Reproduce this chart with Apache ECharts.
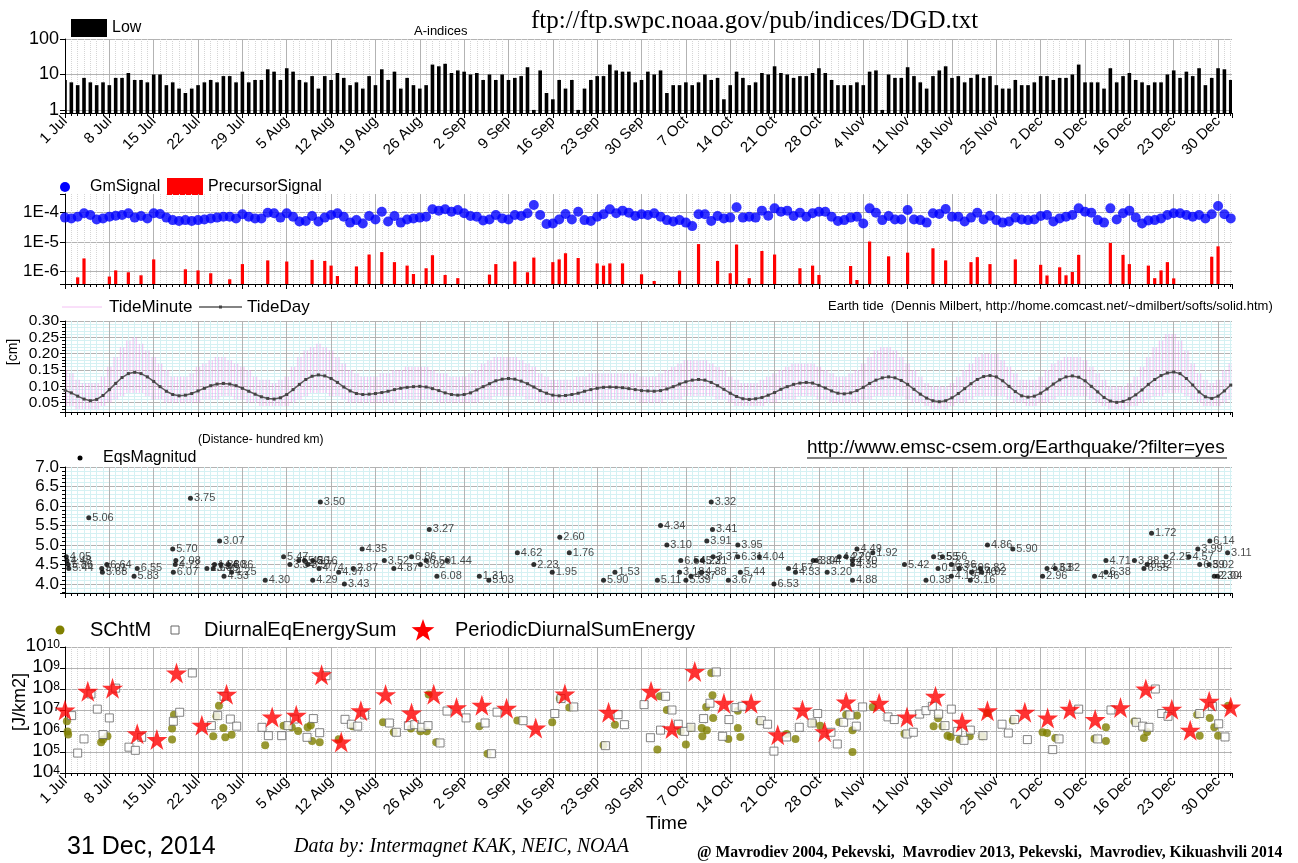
<!DOCTYPE html>
<html>
<head>
<meta charset="utf-8">
<script src="https://cdn.jsdelivr.net/npm/echarts@6/dist/echarts.min.js"></script>
<style>
  html, body { margin: 0; padding: 0; background: #fff; }
  #chart { width: 1298px; height: 863px; }
</style>
</head>
<body>
<div id="chart"></div>
<script>
// ---------------------------------------------------------------
// Daily series, 1 Jul 2014 .. 1 Jan 2015 (index 0 = 1 Jul)
// ---------------------------------------------------------------
const MONTHS = ['Jan', 'Feb', 'Mar', 'Apr', 'May', 'Jun', 'Jul', 'Aug', 'Sep', 'Oct', 'Nov', 'Dec'];
const START_UTC = Date.UTC(2014, 6, 1);

// A-index, "Low" (NOAA DGD)
const aIndexLow = [
  7,6,5,8,6,5,6,5,8,8, 11,7,7,6,10,10,5,6,4,3, 4,5,6,7,6,9,9,6,12,6,
  7,7,14,12,7,15,12,7,6,9, 4,9,7,11,8,5,6,4,9,5, 14,7,12,4,8,5,4,5,19,17,
  20,11,13,12,10,11,7,10,7,10, 7,8,9,16,1,13,3,2,7,4, 7,1,4,7,9,9,19,13,12,12,
  6,
  7,12,10,13,3,5,5,6,5,6, 10,7,8,2,5,12,8,5,6,11, 10,17,11,10,8,9,9,11,15,11,
  7,5,5,5,6,5,12,13,1,10, 8,8,16,9,6,4,9,13,17,8, 9,6,8,10,8,9,5,4,4,7,
  5,5,6,9,9,7,8,8,10,19, 6,6,6,4,15,6,9,11,7,6, 5,6,6,10,13,8,12,9,15,5,
  8,15,14,7
];

// Geomagnetic signal (daily)
const gmSignal = [
  6.8e-5,6.4e-5,7.3e-5,9.5e-5,8.3e-5,5.9e-5,6.4e-5,7.3e-5,7.9e-5,8.3e-5,
  9.5e-5,6.8e-5,7.7e-5,6.4e-5,9.5e-5,9.0e-5,6.8e-5,5.6e-5,5.2e-5,5.6e-5,
  5.2e-5,5.6e-5,5.9e-5,6.4e-5,6.8e-5,7.3e-5,7.3e-5,6.4e-5,8.8e-5,7.3e-5,
  6.4e-5,6.4e-5,1.0e-4,9.5e-5,6.8e-5,9.5e-5,7.3e-5,5.0e-5,5.2e-5,7.7e-5,
  5.0e-5,6.8e-5,8.3e-5,9.5e-5,7.3e-5,4.6e-5,5.6e-5,4.3e-5,7.7e-5,5.9e-5,
  1.08e-4,5.0e-5,7.7e-5,4.6e-5,5.9e-5,6.4e-5,6.8e-5,7.3e-5,1.3e-4,1.17e-4,
  1.3e-4,1.08e-4,1.23e-4,9.5e-5,7.7e-5,7.3e-5,5.4e-5,5.9e-5,8.3e-5,6.4e-5,
  5.9e-5,8.3e-5,7.7e-5,9.5e-5,1.82e-4,8.3e-5,4.1e-5,4.3e-5,5.9e-5,9.0e-5,
  5.9e-5,1.08e-4,5.6e-5,5.2e-5,7.3e-5,8.8e-5,1.3e-4,9.5e-5,1.17e-4,1.0e-4,
  7.7e-5,8.8e-5,8.3e-5,
  9.5e-5,7.3e-5,5.6e-5,5.0e-5,5.6e-5,4.6e-5,3.5e-5,8.8e-5,
  8.8e-5,5.2e-5,7.7e-5,6.4e-5,6.8e-5,1.52e-4,6.8e-5,7.3e-5,6.8e-5,1.17e-4,
  7.9e-5,1.4e-4,1.08e-4,1.17e-4,7.7e-5,1.0e-4,7.3e-5,9.5e-5,1.08e-4,1.08e-4,
  7.3e-5,5.2e-5,5.6e-5,6.8e-5,7.3e-5,4.3e-5,1.4e-4,1.0e-4,5.6e-5,7.7e-5,
  5.9e-5,5.9e-5,1.23e-4,5.9e-5,5.6e-5,4.6e-5,9.5e-5,9.0e-5,1.33e-4,7.3e-5,
  7.3e-5,5.0e-5,6.8e-5,1.0e-4,5.9e-5,7.9e-5,5.6e-5,4.6e-5,5.0e-5,6.8e-5,
  5.9e-5,5.6e-5,5.9e-5,7.7e-5,8.3e-5,5.0e-5,6.4e-5,7.3e-5,8.3e-5,1.4e-4,
  1.08e-4,1.0e-4,5.6e-5,4.6e-5,1.4e-4,5.9e-5,9.5e-5,1.17e-4,6.9e-5,4.3e-5,
  5.4e-5,5.6e-5,6.4e-5,8.3e-5,9.5e-5,9.5e-5,8.3e-5,7.3e-5,8.3e-5,6.4e-5,
  8.8e-5,1.68e-4,8.8e-5,6.4e-5
];

// Precursor signal (days with a signal)
const precursorDay = [
  2,3,7,8,10,12,14,19,21,23,26,28,32,35,39,41,42,43,46,48,50,52,54,55,57,58,60,62,67,68,
  71,73,74,77,78,79,81,84,85,86,88,91,
  93,97,100,103,105,106,108,110,112,116,118,119,124,125,127,130,133,137,139,143,
  144,146,150,154,155,157,158,159,160,165,167,168,171,172,173,174,175,181,182
];
const precursorValue = [
  6.4e-7,2.8e-6,6.8e-7,1.1e-6,9.5e-7,7.5e-7,2.6e-6,1.2e-6,1.1e-6,8.8e-7,
  5.5e-7,1.8e-6,2.4e-6,2.2e-6,2.5e-6,2.3e-6,1.6e-6,7.1e-7,1.5e-6,3.8e-6,
  4.6e-6,2.1e-6,1.6e-6,8.3e-7,1.3e-6,3.6e-6,7.7e-7,6.0e-7,7.9e-7,1.8e-6,
  2.2e-6,9.5e-7,3.0e-6,2.1e-6,2.6e-6,4.2e-6,2.9e-6,1.9e-6,1.6e-6,1.9e-6,
  1.9e-6,8.1e-7,
  4.8e-7,1.08e-6,8.6e-6,2.3e-6,8.8e-7,8.3e-6,6.0e-7,5.0e-6,3.8e-6,1.3e-6,
  1.6e-6,7.7e-7,1.55e-6,5.2e-7,1.05e-5,3.3e-6,4.4e-6,6.2e-6,2.4e-6,2.1e-6,
  3.1e-6,1.8e-6,2.6e-6,1.7e-6,7.4e-7,1.4e-6,7.5e-7,9.7e-7,3.7e-6,9.4e-6,
  3.7e-6,1.8e-6,1.6e-6,6.0e-7,1.1e-6,2.1e-6,5.9e-7,3.2e-6,7.2e-6
];

// Earth tide [cm]: daily mean and the daily range of the minute values
const tideDay = [
  .088,.080,.070,.061,.056,.060,.072,.090,.109,.127, .139,.143,.139,.129,.115,.099,.085,.075,.071,.073,
  .078,.086,.094,.102,.107,.109,.107,.102,.094,.085, .076,.068,.063,.061,.065,.075,.090,.106,.121,.131,
  .135,.132,.124,.112,.098,.086,.078,.075,.076,.078, .081,.085,.090,.094,.097,.099,.100,.098,.093,.087,
  .080,.075,.073,.075,.080,.089,.099,.108,.117,.122, .124,.122,.116,.108,.098,.087,.079,.073,.071,.072,
  .075,.079,.085,.090,.094,.097,.098,.097,.096,.093, .090,.087,.086,.085,.087,.092,.099,.107,.114,.119,
  .121,.119,.112,.102,.091,.079,.069,.062,.060,.062, .066,.073,.081,.091,.099,.106,.110,.112,.110,.103,
  .095,.086,.079,.077,.080,.087,.097,.109,.119,.126, .129,.126,.118,.106,.091,.076,.064,.056,.053,.056,
  .065,.078,.093,.108,.121,.130,.133,.129,.117,.100, .084,.071,.067,.070,.079,.092,.107,.120,.129,.132,
  .128,.117,.100,.083,.066,.055,.051,.054,.062,.074, .089,.106,.121,.133,.141,.144,.139,.124,.104,.083,
  .068,.063,.070,.086,.104
];
const tideMinuteHigh = [
  .15,.14,.12,.11,.11,.11,.13,.16,.19,.22, .24,.25,.23,.21,.19,.17,.15,.13,.13,.13,
  .14,.16,.17,.18,.19,.19,.18,.17,.16,.15, .13,.12,.12,.11,.12,.13,.16,.19,.21,.22,
  .23,.22,.21,.19,.17,.15,.14,.13,.13,.13, .14,.14,.15,.15,.16,.16,.16,.16,.15,.14,
  .14,.13,.13,.13,.14,.15,.17,.18,.19,.19, .19,.19,.18,.17,.16,.14,.13,.12,.12,.12,
  .12,.13,.13,.14,.14,.14,.14,.14,.14,.14, .14,.13,.13,.13,.14,.15,.16,.17,.18,.18,
  .18,.18,.17,.16,.15,.13,.12,.11,.11,.11, .12,.13,.14,.15,.16,.17,.17,.17,.17,.16,
  .15,.14,.13,.13,.14,.15,.17,.19,.21,.22, .22,.21,.19,.17,.15,.13,.11,.10,.10,.10,
  .11,.13,.15,.17,.19,.20,.20,.20,.18,.16, .14,.12,.12,.12,.13,.15,.17,.18,.19,.19,
  .19,.18,.16,.14,.12,.10,.10,.10,.11,.13, .16,.19,.22,.24,.26,.26,.24,.21,.17,.14,
  .12,.11,.12,.15,.17
];
const tideMinuteLow = [
  .04,.04,.03,.03,.03,.03,.04,.05,.06,.07, .08,.08,.08,.07,.06,.06,.05,.05,.05,.05,
  .05,.05,.06,.06,.06,.07,.07,.06,.06,.05, .05,.04,.04,.04,.04,.04,.05,.06,.07,.08,
  .08,.08,.07,.07,.06,.05,.05,.05,.05,.05, .05,.05,.05,.06,.06,.06,.06,.06,.06,.05,
  .05,.05,.05,.05,.05,.05,.06,.06,.07,.07, .07,.07,.07,.06,.06,.05,.05,.05,.05,.05,
  .05,.05,.05,.05,.06,.06,.06,.06,.06,.06, .06,.05,.05,.05,.05,.06,.06,.06,.07,.07,
  .07,.07,.07,.06,.06,.05,.04,.04,.04,.04, .04,.05,.05,.06,.06,.06,.07,.07,.07,.06,
  .06,.05,.05,.05,.05,.05,.06,.06,.07,.07, .07,.07,.07,.06,.05,.05,.04,.03,.03,.03,
  .04,.05,.05,.06,.07,.07,.07,.07,.07,.06, .05,.05,.04,.04,.05,.05,.06,.07,.07,.07,
  .07,.07,.06,.05,.04,.03,.03,.03,.04,.04, .05,.06,.07,.07,.08,.08,.08,.07,.06,.05,
  .04,.04,.04,.05,.06
];

// Earthquakes: time (days from 1 Jul), magnitude, distance label (hundred km)
const eqDay = [
  0.2,0.3,0.5,0.6,3.75,5.8,5.9,6.6,10.9,11.4, 17.0,17.5,17.4,17.1,19.8,22.4,23.4,23.6,24.4,24.6,
  25.1,25.8,26.3,31.6,34.5,35.5,36.9,37.8,38.3,39.1, 40.1,39.1,40.3,43.2,44.1,45.5,46.9,50.4,51.9,54.7,
  56.1,57.0,57.5,58.7,60.3,65.4,66.9,71.4,74.0,76.9, 78.1,79.6,85.0,86.8,93.5,94.0,95.0,97.0,97.2,98.0,
  98.8,99.6,100.5,100.6,101.3,102.0,102.2,102.3,104.7,106.2, 106.2,106.6,109.6,111.9,114.2,115.3,118.1,118.6,120.3,122.2,
  123.3,124.3,124.3,125.0,124.3,127.5,132.5,135.9,137.1,137.8, 138.5,139.9,139.9,141.1,142.9,143.1,144.5,144.7,145.6,149.6,
  154.3,155.0,156.3,162.5,164.3,164.3,168.8,170.3,170.8,171.5, 173.8,177.4,178.8,179.1,180.6,180.7,181.4,181.9,183.5
];
const eqMagnitude = [
  4.7,4.6,4.5,4.4,5.7,4.4,4.3,4.5,4.2,4.4, 4.9,4.6,4.5,4.3,6.2,4.4,4.4,4.5,5.1,4.5,
  4.2,4.5,4.3,4.1,4.7,4.5,4.6,4.6,4.5,4.6, 4.4,4.1,6.1,4.3,4.0,4.4,4.9,4.6,4.4,4.7,
  4.5,4.6,5.4,4.2,4.6,4.2,4.1,4.8,4.5,4.3, 5.2,4.8,4.1,4.3,4.1,5.5,5.0,4.3,4.6,4.1,
  4.2,4.6,4.3,4.6,5.1,6.1,5.4,4.7,4.1,5.0, 4.7,4.3,4.7,4.0,4.4,4.3,4.6,4.6,4.3,4.7,
  4.7,4.6,4.5,4.9,4.1,4.8,4.5,4.1,4.7,4.4, 4.7,4.5,4.2,4.4,4.1,4.3,4.4,4.3,5.0,4.9,
  4.2,4.4,4.4,4.2,4.6,4.3,4.6,4.4,4.5,5.3, 4.7,4.7,4.9,4.5,4.5,5.1,4.2,4.2,4.8
];
const eqDistance = [
  '4.05','4.48','5.86','5.44','5.06','5.01','5.68','6.64','5.83','6.55',
  '5.70','2.08','4.72','6.07','3.75','2.64','3.06','1.86','3.07','4.80',
  '4.53','4.86','4.25','4.30','5.47','3.34','5.45','5.26','3.57','6.16',
  '4.74','4.29','3.50','4.97','3.43','2.87','4.35','3.52','4.87','6.86',
  '3.02','6.59','3.27','6.08','1.44','1.31','5.03','4.62','2.23','1.95',
  '2.60','1.76','5.90','1.53','5.11','4.34','3.10','3.18','6.54','5.39',
  '4.37','4.23','4.88','5.21','3.91','3.32','3.41','3.37','3.67','3.95',
  '6.31','5.44','4.04','6.53','4.57','4.33','3.84','3.04','3.20','4.27',
  '4.20','4.70','4.35','4.49','4.88','1.92','5.42','0.38','5.55','0.13',
  '5.56','6.36','4.19','3.59','3.16','4.76','6.82','4.92','4.86','5.90',
  '2.96','4.63','3.82','4.46','4.71','6.38','3.88','6.55','6.32','1.72',
  '2.25','4.57','3.99','6.39','5.02','6.14','2.30','2.04','3.11'
];

// Energy [J/km2]
const schtDay = [
  0.3,0.4,0.5,5.7,6.0,6.7,16.9,16.9,17.2,23.4, 23.9,24.3,25.0,25.3,26.3,31.6,34.5,35.8,36.8,38.3,
  38.8,39.0,40.2,43.2,45.4,50.2,51.9,54.6,56.1,57.1, 57.4,58.6,65.4,66.7,71.4,76.9,78.1,79.6,85.0,86.8,
  93.5,93.9,95.0,97.2,98.0,98.8,100.5,100.6,101.2,101.3, 102.0,102.2,102.3,104.7,106.2,106.2,106.6,109.6,113.9,115.3,
  118.1,119.2,122.2,123.3,124.3,124.3,125.0,127.5,132.5,137.1, 137.8,138.5,139.3,139.8,141.2,142.8,144.8,145.6,149.6,154.3,
  155.0,156.3,162.5,164.3,164.3,168.8,170.3,170.8,178.7,179.1, 180.7,181.4,182.0,183.6
];
const schtEnergy = [
  2.9e6,9.5e5,6.8e5,2.9e5,3.9e5,5.6e5,1.3e6,3.9e5,6.0e6,5.6e5, 5.0e6,1.6e7,1.4e6,5.0e5,6.7e5,2.1e5,1.8e6,1.5e6,1.0e6,1.5e6,
  1.9e6,3.3e5,2.9e5,4.1e5,1.7e6,2.6e6,8.7e5,1.3e6,9.6e5,9.6e5, 5.4e7,2.9e5,1.7e6,8.3e4,3.2e6,2.6e6,3.5e7,1.3e7,2.1e5,2.0e6,
  1.3e5,4.5e7,1.0e7,9.6e5,2.3e5,1.4e6,1.4e6,5.6e5,1.4e7,1.1e6, 5.8e8,5.0e7,4.2e6,4.2e5,9.3e6,1.4e6,5.2e5,2.9e6,7.2e5,4.2e5,
  2.4e6,1.8e6,2.6e6,6.0e6,1.1e6,1.0e5,5.4e6,1.4e7,7.4e5,1.7e6, 4.0e6,1.7e6,6.0e5,5.2e5,3.9e5,5.6e5,5.6e5,7.2e6,3.2e6,8.7e5,
  8.0e5,4.6e5,4.3e5,3.3e5,1.5e6,2.8e6,4.6e5,8.9e5,6.0e6,6.0e5, 4.2e6,1.5e6,6.0e5,1.6e7
];
const diurnalDay = [
  1.05,2.0,3.0,4.1,5.1,6.0,7.0,8.0,10.1,11.1, 12.1,17.1,18.1,20.1,23.1,24.1,25.1,26.1,27.1,31.1,
  32.1,34.2,35.2,36.2,38.2,39.2,40.2,41.2,44.2,45.2, 46.2,47.3,51.2,52.3,54.2,55.2,56.3,57.3,59.2,60.3,
  63.3,66.3,67.3,68.2,72.3,77.3,78.3,80.3,85.3,87.3, 88.3,91.4,92.4,94.0,94.8,95.8,96.8,97.8,98.8,100.8,
  101.8,102.8,103.8,104.8,105.9,106.9,109.9,110.9,111.9,113.9, 115.9,117.9,118.8,120.9,121.9,122.9,123.9,124.9,125.9,129.9,
  130.9,132.9,133.9,134.9,135.9,136.9,137.9,138.9,139.9,140.9, 141.9,142.9,144.9,147.9,148.9,149.9,151.9,155.9,156.9,160.0,
  163.0,165.1,169.1,170.1,171.1,172.1,173.1,174.1,179.1,181.1, 182.1,183.1
];
const diurnalEnergy = [
  5.4e6,8.9e4,4.2e5,5.8e7,1.1e7,6.8e5,4.2e6,1.1e8,1.7e5,1.2e5, 5.0e5,2.9e6,7.8e6,5.8e8,1.8e6,5.4e6,4.5e7,3.7e6,1.7e6,1.5e6,
  6.0e5,6.0e5,1.8e6,3.7e6,5.0e5,3.9e6,8.3e5,4.3e8,3.6e6,2.1e6, 1.7e6,5.8e6,2.4e6,8.7e5,1.8e6,2.0e6,1.5e6,1.8e6,2.7e5,8.9e6,
  4.2e6,2.4e6,8.3e4,7.9e6,3.1e6,6.8e6,3.5e7,1.4e7,2.0e5,6.0e6, 2.0e6,1.8e7,4.8e5,1.1e6,4.5e7,1.0e7,2.1e6,9.6e5,1.5e6,3.9e6,
  2.1e7,6.5e8,5.6e5,3.5e6,1.3e7,1.5e7,3.1e6,2.1e6,1.1e5,5.2e5, 1.5e6,2.4e6,6.8e6,8.7e5,2.4e5,2.6e6,5.8e6,1.7e6,1.4e7,4.7e6,
  3.5e6,7.2e5,8.7e5,6.4e6,9.3e6,1.5e7,6.4e6,1.8e6,1.1e7,9.6e5, 3.6e5,1.1e6,6.0e5,2.1e6,8.0e5,3.5e6,3.9e5,1.3e5,4.2e5,1.1e7,
  4.2e5,1.0e7,2.6e6,1.7e6,1.5e6,1.0e8,6.8e6,5.0e6,6.8e6,1.5e7, 2.2e6,5.2e5
];
const periodicDay = [
  0.0,3.6,7.5,11.4,14.5,17.6,21.6,25.5,32.7,36.5, 40.5,43.6,46.7,50.6,54.7,58.2,61.8,65.8,69.7,74.3,
  78.9,85.8,92.5,95.8,99.4,104.0,108.3,112.5,116.4,119.9, 123.3,128.5,132.9,137.4,141.6,145.6,151.5,155.1,158.6,162.6,
  166.6,170.6,174.7,177.6,180.6,184.0
];
const periodicEnergy = [
  1.0e7,7.8e7,1.1e8,7.4e5,3.9e5,5.8e8,1.9e6,5.6e7,4.7e6,5.6e6, 4.8e8,3.0e5,9.3e6,5.4e7,7.2e6,5.6e7,1.3e7,1.7e7,1.2e7,1.4e6,
  5.8e7,7.9e6,7.8e7,1.3e6,6.9e8,2.1e7,2.1e7,6.7e5,1.0e7,9.3e5, 2.4e7,2.1e7,4.7e6,4.5e7,2.6e6,9.3e6,7.9e6,4.2e6,1.1e7,3.5e6,
  1.3e7,1.0e8,1.1e7,1.1e6,2.6e7,1.4e7
];

// ---------------------------------------------------------------
// Layout and styling
// ---------------------------------------------------------------
const SANS = 'Arial, "Liberation Sans", Helvetica, sans-serif';
const SERIF = '"Times New Roman", "Liberation Serif", Times, serif';
const X_MAX = 184.2;
const GRID_LEFT = 65, GRID_RIGHT = 66;
const PANELS = [
  { top: 39,  height: 74 },
  { top: 194, height: 90 },
  { top: 321, height: 91 },
  { top: 467, height: 126 },
  { top: 647, height: 126 }
];
const Y_MIN = [0.82, 3.8e-7, 0.0215, 3.77, 1e4];
const Y_MAX = [100, 4.3e-4, 0.30, 7.0, 1e10];
const MAJOR_GRID = '#b3b3b3';
const MINOR_GRAY = '#d6d6d6';
const MINOR_CYAN = '#d5f1f3';

function dayLabel(d) {
  const t = new Date(START_UTC + Math.round(d) * 86400000);
  return t.getUTCDate() + ' ' + MONTHS[t.getUTCMonth()];
}
function isPow10(v) {
  const e = Math.log10(v);
  return Math.abs(e - Math.round(e)) < 1e-6;
}

function timeAxis(i, withLabels, cyan) {
  return {
    type: 'value', gridIndex: i, min: 0, max: X_MAX, interval: 7,
    axisLine: { show: true, onZero: false, lineStyle: { color: '#000', width: 1 } },
    axisTick: { show: true, length: 5, lineStyle: { color: '#000' } },
    minorTick: { show: true, splitNumber: 7, length: 3, lineStyle: { color: '#000' } },
    splitLine: { show: true, showMaxLine: false, lineStyle: { color: MAJOR_GRID, width: 1 } },
    minorSplitLine: { show: true, lineStyle: cyan ? { color: MINOR_CYAN, width: 1 } : { color: MINOR_GRAY, width: 1, type: 'dotted' } },
    axisLabel: {
      show: withLabels, rotate: 45, fontSize: 15, color: '#000', fontFamily: SANS, margin: 6,
      showMaxLabel: false, hideOverlap: false, formatter: dayLabel
    }
  };
}

function valueAxisBase(i, showTopLine) {
  return {
    gridIndex: i, min: Y_MIN[i], max: Y_MAX[i],
    axisLine: { show: true, onZero: false, lineStyle: { color: '#000', width: 1 } },
    axisTick: { show: true, length: 5, lineStyle: { color: '#000' } },
    splitLine: { show: true, showMaxLine: showTopLine, lineStyle: { color: MAJOR_GRID, width: 1 } }
  };
}

const yAxes = [
  Object.assign(valueAxisBase(0, true), {
    type: 'log',
    axisLabel: { fontSize: 18, color: '#000', fontFamily: SANS, margin: 6, showMaxLabel: true, hideOverlap: false,
      formatter: v => isPow10(v) ? String(Math.round(v)) : '' }
  }),
  Object.assign(valueAxisBase(1, false), {
    type: 'log',
    axisLabel: { fontSize: 17, color: '#000', fontFamily: SANS, margin: 6, hideOverlap: false,
      formatter: v => isPow10(v) ? '1E' + Math.round(Math.log10(v)) : '' }
  }),
  Object.assign(valueAxisBase(2, true), {
    type: 'value',
    minorTick: { show: true, splitNumber: 5, length: 3 },
    minorSplitLine: { show: true, lineStyle: { color: MINOR_CYAN, width: 1 } },
    axisLabel: { fontSize: 15.5, lineHeight: 12, interval: 0, color: '#000', fontFamily: SANS, margin: 6,
      showMinLabel: false, showMaxLabel: true, hideOverlap: false,
      formatter: v => v.toFixed(2) }
  }),
  Object.assign(valueAxisBase(3, true), {
    type: 'value',
    minorTick: { show: true, splitNumber: 5, length: 3 },
    minorSplitLine: { show: true, lineStyle: { color: MINOR_CYAN, width: 1 } },
    axisLabel: { fontSize: 17, lineHeight: 16, color: '#000', fontFamily: SANS, margin: 6,
      showMinLabel: false, showMaxLabel: true, hideOverlap: false,
      formatter: v => v.toFixed(1) }
  }),
  Object.assign(valueAxisBase(4, true), {
    type: 'log',
    axisLabel: {
      color: '#000', fontFamily: SANS, margin: 5, showMinLabel: true, showMaxLabel: true, hideOverlap: false,
      formatter: v => '{b|10}{s|' + Math.round(Math.log10(v)) + '}',
      rich: {
        b: { fontSize: 19, fontFamily: SANS, color: '#000', lineHeight: 17, verticalAlign: 'bottom' },
        s: { fontSize: 12, fontFamily: SANS, color: '#000', lineHeight: 17, verticalAlign: 'top' }
      }
    }
  })
];

// Bars drawn from the bottom of a (log) value axis up to the value
function barFromAxisMin(yMin, width, color) {
  return function (params, api) {
    const top = api.coord([api.value(0), api.value(1)]);
    const base = api.coord([api.value(0), yMin]);
    return {
      type: 'rect',
      shape: { x: top[0] - width / 2, y: top[1], width: width, height: base[1] - top[1] },
      style: { fill: color }
    };
  };
}

// Minute tide shown as the daily range, two semi-diurnal strokes per day
function tideRange(params, api) {
  const d = api.value(0), lo = api.value(1), hi = api.value(2);
  const children = [];
  [-0.25, 0.25].forEach(off => {
    const a = api.coord([d + off, lo]);
    const b = api.coord([d + off, hi]);
    children.push({
      type: 'line',
      shape: { x1: a[0], y1: a[1], x2: b[0], y2: b[1] },
      style: { stroke: 'rgba(236,150,236,0.5)', lineWidth: 1.2 }
    });
  });
  return { type: 'group', children: children };
}

const STAR = 'path://M50,0 L61.8,35.1 L98.9,35.1 L68.8,56.7 L80.3,91.9 L50,70 L19.7,91.9 L31.2,56.7 L1.1,35.1 L38.2,35.1 Z';

function starPoints(cx, cy, R) {
  const pts = [];
  for (let k = 0; k < 10; k++) {
    const r = k % 2 === 0 ? R : R * 0.4;
    const a = -Math.PI / 2 + k * Math.PI / 5;
    pts.push([cx + r * Math.cos(a), cy + r * Math.sin(a)]);
  }
  return pts;
}

function txt(x, y, text, size, extra, rotation) {
  const el = {
    type: 'text', x: x, y: y, silent: true,
    style: Object.assign({ text: text, fontSize: size, fontFamily: SANS, fill: '#000', verticalAlign: 'middle' }, extra || {})
  };
  if (rotation) el.rotation = rotation;
  return el;
}

const graphics = [
  // A-indices panel
  { type: 'rect', shape: { x: 71, y: 19, width: 36, height: 18 }, style: { fill: '#000' } },
  txt(112, 28, 'Low', 16),
  txt(414, 31, 'A-indices', 13),
  txt(531, 21, 'ftp://ftp.swpc.noaa.gov/pub/indices/DGD.txt', 25, { fontFamily: SERIF }),
  // signal panel
  { type: 'circle', shape: { cx: 65, cy: 187, r: 5 }, style: { fill: '#0000ff' } },
  txt(90, 187, 'GmSignal', 16),
  { type: 'rect', shape: { x: 167, y: 178, width: 36, height: 17 }, style: { fill: '#ff0000' } },
  txt(208, 187, 'PrecursorSignal', 16),
  // tide panel
  { type: 'line', shape: { x1: 62, y1: 307, x2: 102, y2: 307 }, style: { stroke: 'rgba(236,150,236,0.6)', lineWidth: 1 } },
  txt(109, 307, 'TideMinute', 17),
  { type: 'line', shape: { x1: 199, y1: 307, x2: 242, y2: 307 }, style: { stroke: '#5a5a5a', lineWidth: 1.5 } },
  { type: 'rect', shape: { x: 219, y: 305.5, width: 3, height: 3 }, style: { fill: '#444' } },
  txt(247, 307, 'TideDay', 17),
  txt(828, 306, 'Earth tide  (Dennis Milbert, http://home.comcast.net/~dmilbert/softs/solid.htm)', 13),
  txt(13, 352, '[cm]', 14, { align: 'center' }, Math.PI / 2),
  // earthquake panel
  txt(198, 440, '(Distance- hundred km)', 12),
  { type: 'circle', shape: { cx: 80, cy: 458, r: 2.5 }, style: { fill: '#000' } },
  txt(103, 458, 'EqsMagnitud', 16),
  txt(807, 448, 'http://www.emsc-csem.org/Earthquake/?filter=yes', 19),
  { type: 'line', shape: { x1: 807, y1: 458, x2: 1227, y2: 458 }, style: { stroke: '#000', lineWidth: 1 } },
  // energy panel
  { type: 'circle', shape: { cx: 60, cy: 630, r: 4.5 }, style: { fill: '#808000' } },
  txt(90, 630, 'SChtM', 20),
  { type: 'rect', shape: { x: 171, y: 626, width: 8, height: 8 }, style: { fill: '#fff', stroke: '#666', lineWidth: 1 } },
  txt(204, 630, 'DiurnalEqEnergySum', 20),
  { type: 'polygon', shape: { points: starPoints(423, 631, 12) }, style: { fill: '#ff0000' } },
  txt(455, 630, 'PeriodicDiurnalSumEnergy', 20),
  txt(20, 702, '[J/km2]', 18, { align: 'center' }, Math.PI / 2),
  txt(646, 824, 'Time', 19),
  // footer
  txt(67, 847, '31 Dec, 2014', 25),
  txt(294, 847, 'Data by: Intermagnet KAK, NEIC, NOAA', 20, { fontFamily: SERIF, fontStyle: 'italic' }),
  txt(697, 853, '@ Mavrodiev 2004, Pekevski,  Mavrodiev 2013, Pekevski,  Mavrodiev, Kikuashvili 2014', 15.7,
      { fontFamily: SERIF, fontWeight: 'bold' })
];

const option = {
  animation: false,
  backgroundColor: '#fff',
  grid: PANELS.map(p => ({ left: GRID_LEFT, right: GRID_RIGHT, top: p.top, height: p.height })),
  xAxis: [
    timeAxis(0, true, false),
    timeAxis(1, false, false),
    timeAxis(2, false, true),
    timeAxis(3, false, true),
    timeAxis(4, true, false)
  ],
  yAxis: yAxes,
  series: [
    {
      name: 'Low', type: 'custom', xAxisIndex: 0, yAxisIndex: 0, clip: true,
      renderItem: barFromAxisMin(Y_MIN[0], 3.6, '#000'),
      encode: { x: 0, y: 1 },
      data: aIndexLow.map((v, i) => [i, v])
    },
    {
      name: 'PrecursorSignal', type: 'custom', xAxisIndex: 1, yAxisIndex: 1, clip: true,
      renderItem: barFromAxisMin(Y_MIN[1], 3.2, '#ff0000'),
      encode: { x: 0, y: 1 },
      data: precursorDay.map((d, i) => [d, precursorValue[i]])
    },
    {
      name: 'GmSignal', type: 'scatter', xAxisIndex: 1, yAxisIndex: 1,
      symbol: 'circle', symbolSize: 10,
      itemStyle: { color: '#0000ff' },
      data: gmSignal.map((v, i) => [i, v])
    },
    {
      name: 'TideMinute', type: 'custom', xAxisIndex: 2, yAxisIndex: 2, clip: true,
      renderItem: tideRange,
      encode: { x: 0, y: [1, 2] },
      data: tideDay.map((_, i) => [i, tideMinuteLow[i], tideMinuteHigh[i]])
    },
    {
      name: 'TideDay', type: 'line', xAxisIndex: 2, yAxisIndex: 2,
      symbol: 'rect', symbolSize: 3, showSymbol: true,
      lineStyle: { color: '#5a5a5a', width: 1.5 },
      itemStyle: { color: '#444' },
      data: tideDay.map((v, i) => [i, v])
    },
    {
      name: 'EqsMagnitud', type: 'scatter', xAxisIndex: 3, yAxisIndex: 3,
      symbol: 'circle', symbolSize: 5,
      itemStyle: { color: '#000' },
      label: {
        show: true, position: 'right', distance: 1, fontSize: 11, fontFamily: SANS, color: '#222',
        formatter: p => eqDistance[p.dataIndex]
      },
      data: eqDay.map((d, i) => [d, eqMagnitude[i]])
    },
    {
      name: 'SChtM', type: 'scatter', xAxisIndex: 4, yAxisIndex: 4,
      symbol: 'circle', symbolSize: 8,
      itemStyle: { color: '#808000' },
      data: schtDay.map((d, i) => [d, schtEnergy[i]])
    },
    {
      name: 'DiurnalEqEnergySum', type: 'scatter', xAxisIndex: 4, yAxisIndex: 4,
      symbol: 'rect', symbolSize: 8,
      itemStyle: { color: '#fff', borderColor: '#666', borderWidth: 1 },
      data: diurnalDay.map((d, i) => [d, diurnalEnergy[i]])
    },
    {
      name: 'PeriodicDiurnalSumEnergy', type: 'scatter', xAxisIndex: 4, yAxisIndex: 4,
      symbol: STAR, symbolSize: 21,
      itemStyle: { color: '#ff0000' },
      data: periodicDay.map((d, i) => [d, periodicEnergy[i]])
    }
  ],
  graphic: { elements: graphics }
};

const chart = echarts.init(document.getElementById('chart'), null, { renderer: 'canvas' });
chart.setOption(option);
</script>
</body>
</html>
